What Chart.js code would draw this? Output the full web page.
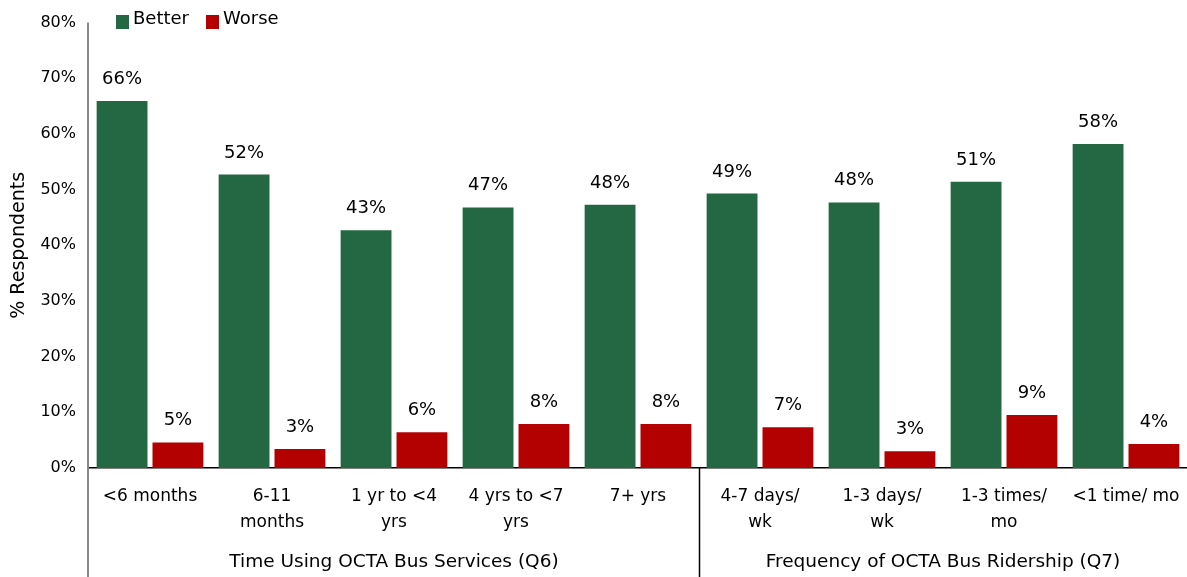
<!DOCTYPE html>
<html>
<head>
<meta charset="utf-8">
<script src="https://cdn.jsdelivr.net/npm/chart.js@4/dist/chart.umd.min.js"></script>
<style>
  body { margin: 0; background: #fff; }
  #wrap { width: 1187px; height: 577px; overflow: hidden; }
</style>
</head>
<body>
<div id="wrap"><canvas id="chart" width="1187" height="577"></canvas></div>
<script>
// chart data
const categories = [
  ['<6 months'], ['6-11', 'months'], ['1 yr to <4', 'yrs'], ['4 yrs to <7', 'yrs'], ['7+ yrs'],
  ['4-7 days/', 'wk'], ['1-3 days/', 'wk'], ['1-3 times/', 'mo'], ['<1 time/ mo']
];
const betterValues = [65.9, 52.7, 42.7, 46.8, 47.3, 49.3, 47.7, 51.4, 58.2];
const worseValues = [4.6, 3.4, 6.4, 7.9, 7.9, 7.3, 3.0, 9.5, 4.3];
const betterLabels = ['66%', '52%', '43%', '47%', '48%', '49%', '48%', '51%', '58%'];
const worseLabels = ['5%', '3%', '6%', '8%', '8%', '7%', '3%', '9%', '4%'];
const groupNames = ['Time Using OCTA Bus Services (Q6)', 'Frequency of OCTA Bus Ridership (Q7)'];
const groupSizes = [5, 4];
const yTicks = [0, 10, 20, 30, 40, 50, 60, 70, 80];

const FONT = '"DejaVu Sans", Verdana, sans-serif';
const GREEN = '#236843';
const RED = '#B30000';

// value labels above each bar
const barLabels = {
  id: 'barLabels',
  afterDatasetsDraw(chart) {
    const ctx = chart.ctx;
    ctx.save();
    ctx.font = '18px ' + FONT;
    ctx.fillStyle = '#000';
    ctx.textAlign = 'center';
    ctx.textBaseline = 'alphabetic';
    chart.data.datasets.forEach((ds, i) => {
      chart.getDatasetMeta(i).data.forEach((bar, j) => {
        ctx.fillText(ds.valueLabels[j], bar.x, bar.y - 17);
      });
    });
    ctx.restore();
  }
};

// axis line, group separators, group titles, legend
const extras = {
  id: 'extras',
  afterDraw(chart) {
    const ctx = chart.ctx;
    const area = chart.chartArea;
    const H = chart.height;
    ctx.save();

    ctx.strokeStyle = '#888';
    ctx.lineWidth = 2;
    ctx.beginPath();
    ctx.moveTo(area.left - 1, area.top);
    ctx.lineTo(area.left - 1, H);
    ctx.stroke();

    const step = (area.right - area.left) / categories.length;
    let start = 0;
    ctx.font = '18.5px ' + FONT;
    ctx.fillStyle = '#000';
    ctx.textAlign = 'center';
    ctx.textBaseline = 'middle';
    groupSizes.forEach((n, g) => {
      const left = area.left + start * step;
      const right = area.left + (start + n) * step;
      ctx.fillText(groupNames[g], (left + right) / 2, 562);
      if (g < groupSizes.length - 1) {
        ctx.strokeStyle = '#000';
        ctx.lineWidth = 1.5;
        ctx.beginPath();
        ctx.moveTo(Math.round(right) + 0.5, area.bottom);
        ctx.lineTo(Math.round(right) + 0.5, H);
        ctx.stroke();
      }
      start += n;
    });

    // legend
    let lx = area.left + 27;
    ctx.font = '18px ' + FONT;
    ctx.textAlign = 'left';
    ctx.textBaseline = 'middle';
    chart.data.datasets.forEach(ds => {
      ctx.fillStyle = ds.backgroundColor;
      ctx.fillRect(lx, 15, 13, 14);
      ctx.fillStyle = '#000';
      ctx.fillText(ds.label, lx + 17, 19);
      lx += 17 + ctx.measureText(ds.label).width + 17;
    });
    ctx.restore();
  }
};

new Chart(document.getElementById('chart'), {
  type: 'bar',
  data: {
    labels: categories,
    datasets: [
      { label: 'Better', data: betterValues, valueLabels: betterLabels, backgroundColor: GREEN },
      { label: 'Worse', data: worseValues, valueLabels: worseLabels, backgroundColor: RED },
    ],
  },
  options: {
    responsive: false,
    animation: false,
    devicePixelRatio: 1,
    datasets: { bar: { barPercentage: 0.91, categoryPercentage: 0.916 } },
    layout: { padding: { top: 10, right: -2, left: 0, bottom: 0 } },
    plugins: {
      legend: { display: false },
      tooltip: { enabled: false },
    },
    scales: {
      x: {
        grid: { display: false, drawTicks: false },
        border: { display: true, color: '#000', width: 1.5 },
        ticks: {
          color: '#000',
          font: { family: FONT, size: 17, lineHeight: 1.5 },
          padding: 16,
          maxRotation: 0,
          autoSkip: false,
        },
        afterFit: s => { s.height = 109; s.paddingRight = 0; s.paddingLeft = 0; },
      },
      y: {
        min: 0,
        max: 80,
        afterBuildTicks: s => { s.ticks = yTicks.map(v => ({ value: v })); },
        grid: { display: false, drawTicks: false },
        border: { display: false },
        ticks: {
          color: '#000',
          font: { family: FONT, size: 16 },
          padding: 13,
          callback: v => v + '%',
        },
        title: {
          display: true,
          text: '% Respondents',
          color: '#000',
          font: { family: FONT, size: 19 },
          padding: { top: 8, bottom: 0 },
        },
        afterFit: s => { s.width = 89; },
      },
    },
  },
  plugins: [barLabels, extras],
});
</script>
</body>
</html>
